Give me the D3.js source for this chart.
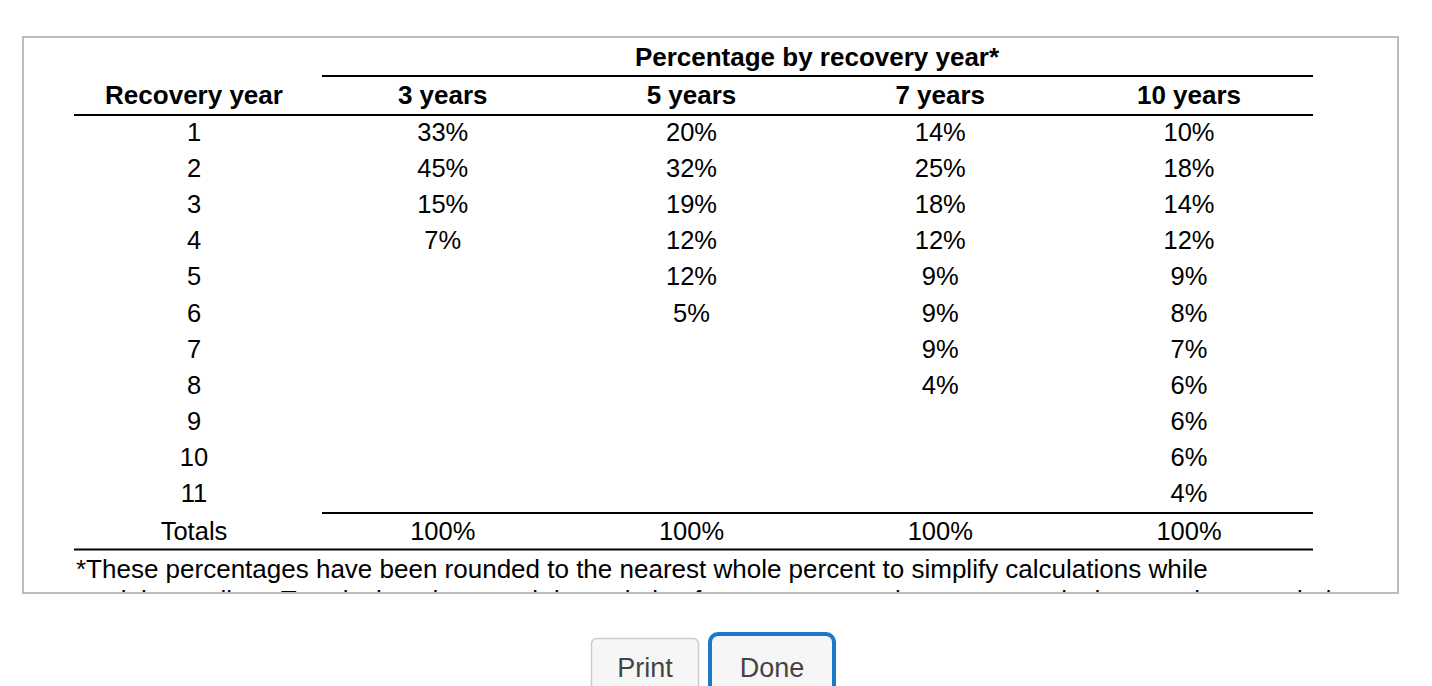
<!DOCTYPE html>
<html>
<head>
<meta charset="utf-8">
<script src="https://cdn.jsdelivr.net/npm/d3@7"></script>
<style>
  html, body { margin: 0; padding: 0; background: #fff; }
  svg { display: block; }
  text { font-family: "Liberation Sans", Arial, sans-serif; fill: #000; }
</style>
</head>
<body>
<svg id="chart" width="1432" height="686"></svg>
<script>
// ---- data ----
const groupTitle = "Percentage by recovery year*";
const columnHeaders = ["Recovery year", "3 years", "5 years", "7 years", "10 years"];
const recoveryYears = [1, 2, 3, 4, 5, 6, 7, 8, 9, 10, 11];
const pct3 = [33, 45, 15, 7];
const pct5 = [20, 32, 19, 12, 12, 5];
const pct7 = [14, 25, 18, 12, 9, 9, 9, 4];
const pct10 = [10, 18, 14, 12, 9, 8, 7, 6, 6, 6, 4];
const totalsLabel = "Totals";
const totals = [100, 100, 100, 100];
const footnote = ["*These percentages have been rounded to the nearest whole percent to simplify calculations while",
  "retaining realism. To calculate the actual depreciation for tax purposes, be sure to apply the actual unrounded"];
const buttons = ["Print", "Done"];

// ---- layout ----
const svg = d3.select("#chart");
const series = [pct3, pct5, pct7, pct10];

const x = d3.scalePoint().domain(d3.range(columnHeaders.length)).range([194, 1189]);
const y = d3.scaleLinear().domain([0, 1]).range([132, 168.1]); // row index -> center y

// outer box
svg.append("rect").attr("x", 23).attr("y", 37).attr("width", 1375).attr("height", 556)
  .attr("fill", "#fff").attr("stroke", "#bdbdbd").attr("stroke-width", 2);

svg.append("clipPath").attr("id", "boxclip").append("rect")
  .attr("x", 24).attr("y", 38).attr("width", 1373).attr("height", 554);
const g = svg.append("g").attr("clip-path", "url(#boxclip)");

const lineL = 74, lineL2 = 322, lineR = 1313;
const hline = (x1, x2, yy) => g.append("line").attr("x1", x1).attr("x2", x2)
  .attr("y1", yy).attr("y2", yy).attr("stroke", "#000").attr("stroke-width", 2);

const fsBold = 26, fsData = 25.5, fsNote = 26;

// group title
g.append("text").attr("x", 817).attr("y", 57)
  .attr("text-anchor", "middle").attr("dominant-baseline", "central")
  .attr("font-size", fsBold).attr("font-weight", "bold").text(groupTitle);
hline(lineL2, lineR, 76);

// column headers
g.selectAll("text.colh").data(columnHeaders).join("text").attr("class", "colh")
  .attr("x", (d, i) => x(i)).attr("y", 95)
  .attr("text-anchor", "middle").attr("dominant-baseline", "central")
  .attr("font-size", fsBold).attr("font-weight", "bold").text(d => d);
hline(lineL, lineR, 115);

// recovery year column
g.selectAll("text.ry").data(recoveryYears).join("text").attr("class", "ry")
  .attr("x", x(0)).attr("y", (d, i) => y(i))
  .attr("text-anchor", "middle").attr("dominant-baseline", "central")
  .attr("font-size", fsData).text(d => d);

// value columns
series.forEach((s, k) => {
  g.selectAll("text.v" + k).data(s).join("text").attr("class", "v" + k)
    .attr("x", x(k + 1)).attr("y", (d, i) => y(i))
    .attr("text-anchor", "middle").attr("dominant-baseline", "central")
    .attr("font-size", fsData).text(d => d + "%");
});

// totals
hline(lineL2, lineR, 513);
const totY = 530.5;
g.append("text").attr("x", x(0)).attr("y", totY)
  .attr("text-anchor", "middle").attr("dominant-baseline", "central")
  .attr("font-size", fsData).text(totalsLabel);
g.selectAll("text.tot").data(totals).join("text").attr("class", "tot")
  .attr("x", (d, i) => x(i + 1)).attr("y", totY)
  .attr("text-anchor", "middle").attr("dominant-baseline", "central")
  .attr("font-size", fsData).text(d => d + "%");
hline(lineL, lineR, 549.5);

// footnote
g.selectAll("text.fn").data(footnote).join("text").attr("class", "fn")
  .attr("x", 76).attr("y", (d, i) => 569 + i * 31)
  .attr("dominant-baseline", "central")
  .attr("font-size", fsNote).text(d => d);

// buttons
const btn = svg.append("g");
btn.append("rect").attr("x", 591.5).attr("y", 638.5).attr("width", 107).attr("height", 70)
  .attr("rx", 5).attr("fill", "#f6f6f6").attr("stroke", "#cccccc").attr("stroke-width", 1.5);
btn.append("rect").attr("x", 710).attr("y", 634).attr("width", 124).attr("height", 74)
  .attr("rx", 8).attr("fill", "#f6f6f6").attr("stroke", "#1c78c9").attr("stroke-width", 4);
btn.selectAll("text.btn").data(buttons).join("text").attr("class", "btn")
  .attr("x", (d, i) => i === 0 ? 645 : 772).attr("y", 677)
  .attr("text-anchor", "middle").attr("font-size", 27)
  .style("fill", "#444").text(d => d);
</script>
</body>
</html>
